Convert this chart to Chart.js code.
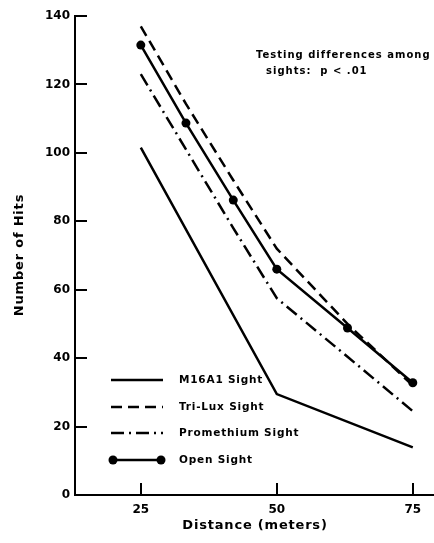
<!DOCTYPE html>
<html>
<head>
<meta charset="utf-8">
<script src="https://cdn.jsdelivr.net/npm/chart.js@4/dist/chart.umd.min.js"></script>
<style>
  html, body { margin: 0; padding: 0; background: #fff; }
  #wrap { width: 434px; height: 543px; }
</style>
</head>
<body>
<div id="wrap"><canvas id="c" width="434" height="543"></canvas></div>
<script>
// Shooting range distances (meters) and hit counts per sight
const distances = [25, 33.3, 42, 50, 63, 75];
const openSight = [131.5, 108.7, 86.2, 66, 48.8, 32.8];
const triLuxSight = [137, 114.3, 92, 72, 50, 32];
const promethiumSight = [123, 101, 78, 57.5, 40.4, 24.5];
const m16a1Distances = [25, 50, 75];
const m16a1Sight = [101.5, 29.5, 13.9];

const xTicks = [25, 50, 75];
const yTicks = [0, 20, 40, 60, 80, 100, 120, 140];
const seriesNames = ['M16A1 Sight', 'Tri-Lux Sight', 'Promethium Sight', 'Open Sight'];
const noteLines = ['Testing differences among', 'sights:  p < .01'];
const xTitle = 'Distance (meters)';
const yTitle = 'Number of Hits';

const FONT = '"DejaVu Sans", sans-serif';
const INK = '#000';

const pts = (xs, ys) => xs.map((x, i) => ({ x, y: ys[i] }));

const dashStyles = [[], [11, 6], [13, 5, 2, 5], []];

// Legend, axis titles and the note, drawn on the canvas
const decorations = {
  id: 'decorations',
  afterDraw(chart) {
    const ctx = chart.ctx;
    ctx.save();
    ctx.fillStyle = INK;
    ctx.strokeStyle = INK;

    // note in upper right
    ctx.font = 'bold 10px ' + FONT;
    ctx.letterSpacing = '1px';
    ctx.textBaseline = 'middle';
    ctx.textAlign = 'left';
    ctx.fillText(noteLines[0], 256, 55);
    ctx.fillText(noteLines[1], 266, 71);

    // legend rows
    const rowY = [380, 407, 433, 460];
    const x0 = 111, x1 = 163;
    seriesNames.forEach((name, i) => {
      const y = rowY[i];
      ctx.lineWidth = 2.5;
      ctx.setLineDash(dashStyles[i]);
      ctx.beginPath();
      ctx.moveTo(x0, y);
      ctx.lineTo(x1, y);
      ctx.stroke();
      ctx.setLineDash([]);
      if (i === 3) {
        [x0 + 2, x1 - 2].forEach(cx => {
          ctx.beginPath();
          ctx.arc(cx, y, 4.5, 0, Math.PI * 2);
          ctx.fill();
        });
      }
      ctx.font = 'bold 10.5px ' + FONT;
      ctx.letterSpacing = '0.8px';
      ctx.textAlign = 'left';
      ctx.textBaseline = 'middle';
      ctx.fillText(name, 179, y);
    });

    // x-axis title
    ctx.font = 'bold 13px ' + FONT;
    ctx.letterSpacing = '0.8px';
    ctx.textAlign = 'center';
    ctx.textBaseline = 'middle';
    ctx.fillText(xTitle, 255, 526);

    // y-axis title
    ctx.translate(20, 255);
    ctx.rotate(-Math.PI / 2);
    ctx.fillText(yTitle, 0, 0);
    ctx.restore();
  }
};

const lineDs = (label, data, dash, markers) => ({
  label,
  data,
  borderColor: INK,
  backgroundColor: INK,
  borderWidth: 2.5,
  borderDash: dash,
  pointRadius: markers ? 4.5 : 0,
  pointHoverRadius: markers ? 4.5 : 0,
  pointBackgroundColor: INK,
  pointBorderWidth: 0,
  tension: 0,
  fill: false
});

new Chart(document.getElementById('c'), {
  type: 'line',
  data: {
    datasets: [
      lineDs(seriesNames[0], pts(m16a1Distances, m16a1Sight), dashStyles[0], false),
      lineDs(seriesNames[1], pts(distances, triLuxSight), dashStyles[1], false),
      lineDs(seriesNames[2], pts(distances, promethiumSight), dashStyles[2], false),
      lineDs(seriesNames[3], pts(distances, openSight), dashStyles[3], true)
    ]
  },
  options: {
    responsive: false,
    animation: false,
    devicePixelRatio: 1,
    layout: { autoPadding: false, padding: { top: 16, right: 0, left: 0, bottom: 0 } },
    plugins: { legend: { display: false }, tooltip: { enabled: false }, title: { display: false } },
    scales: {
      x: {
        type: 'linear',
        min: 12.9,
        max: 78.9,
        afterBuildTicks: s => { s.ticks = xTicks.map(v => ({ value: v })); },
        afterFit: s => { s.height = 48; s.paddingLeft = 0; s.paddingRight = 0; },
        border: { display: true, color: INK, width: 2 },
        grid: { display: true, drawOnChartArea: false, drawTicks: true, tickLength: -12, color: INK, lineWidth: 2 },
        ticks: { color: INK, padding: 20, maxRotation: 0, font: { family: FONT, size: 12, weight: 'bold' } }
      },
      y: {
        type: 'linear',
        min: 0,
        max: 140,
        afterBuildTicks: s => { s.ticks = yTicks.map(v => ({ value: v })); },
        afterFit: s => { s.width = 75; s.paddingTop = 0; s.paddingBottom = 0; },
        border: { display: true, color: INK, width: 2 },
        grid: { display: true, drawOnChartArea: false, drawTicks: true, tickLength: -12, color: INK, lineWidth: 2 },
        ticks: { color: INK, padding: 17, font: { family: FONT, size: 12, weight: 'bold' } }
      }
    }
  },
  plugins: [decorations]
});
</script>
</body>
</html>
